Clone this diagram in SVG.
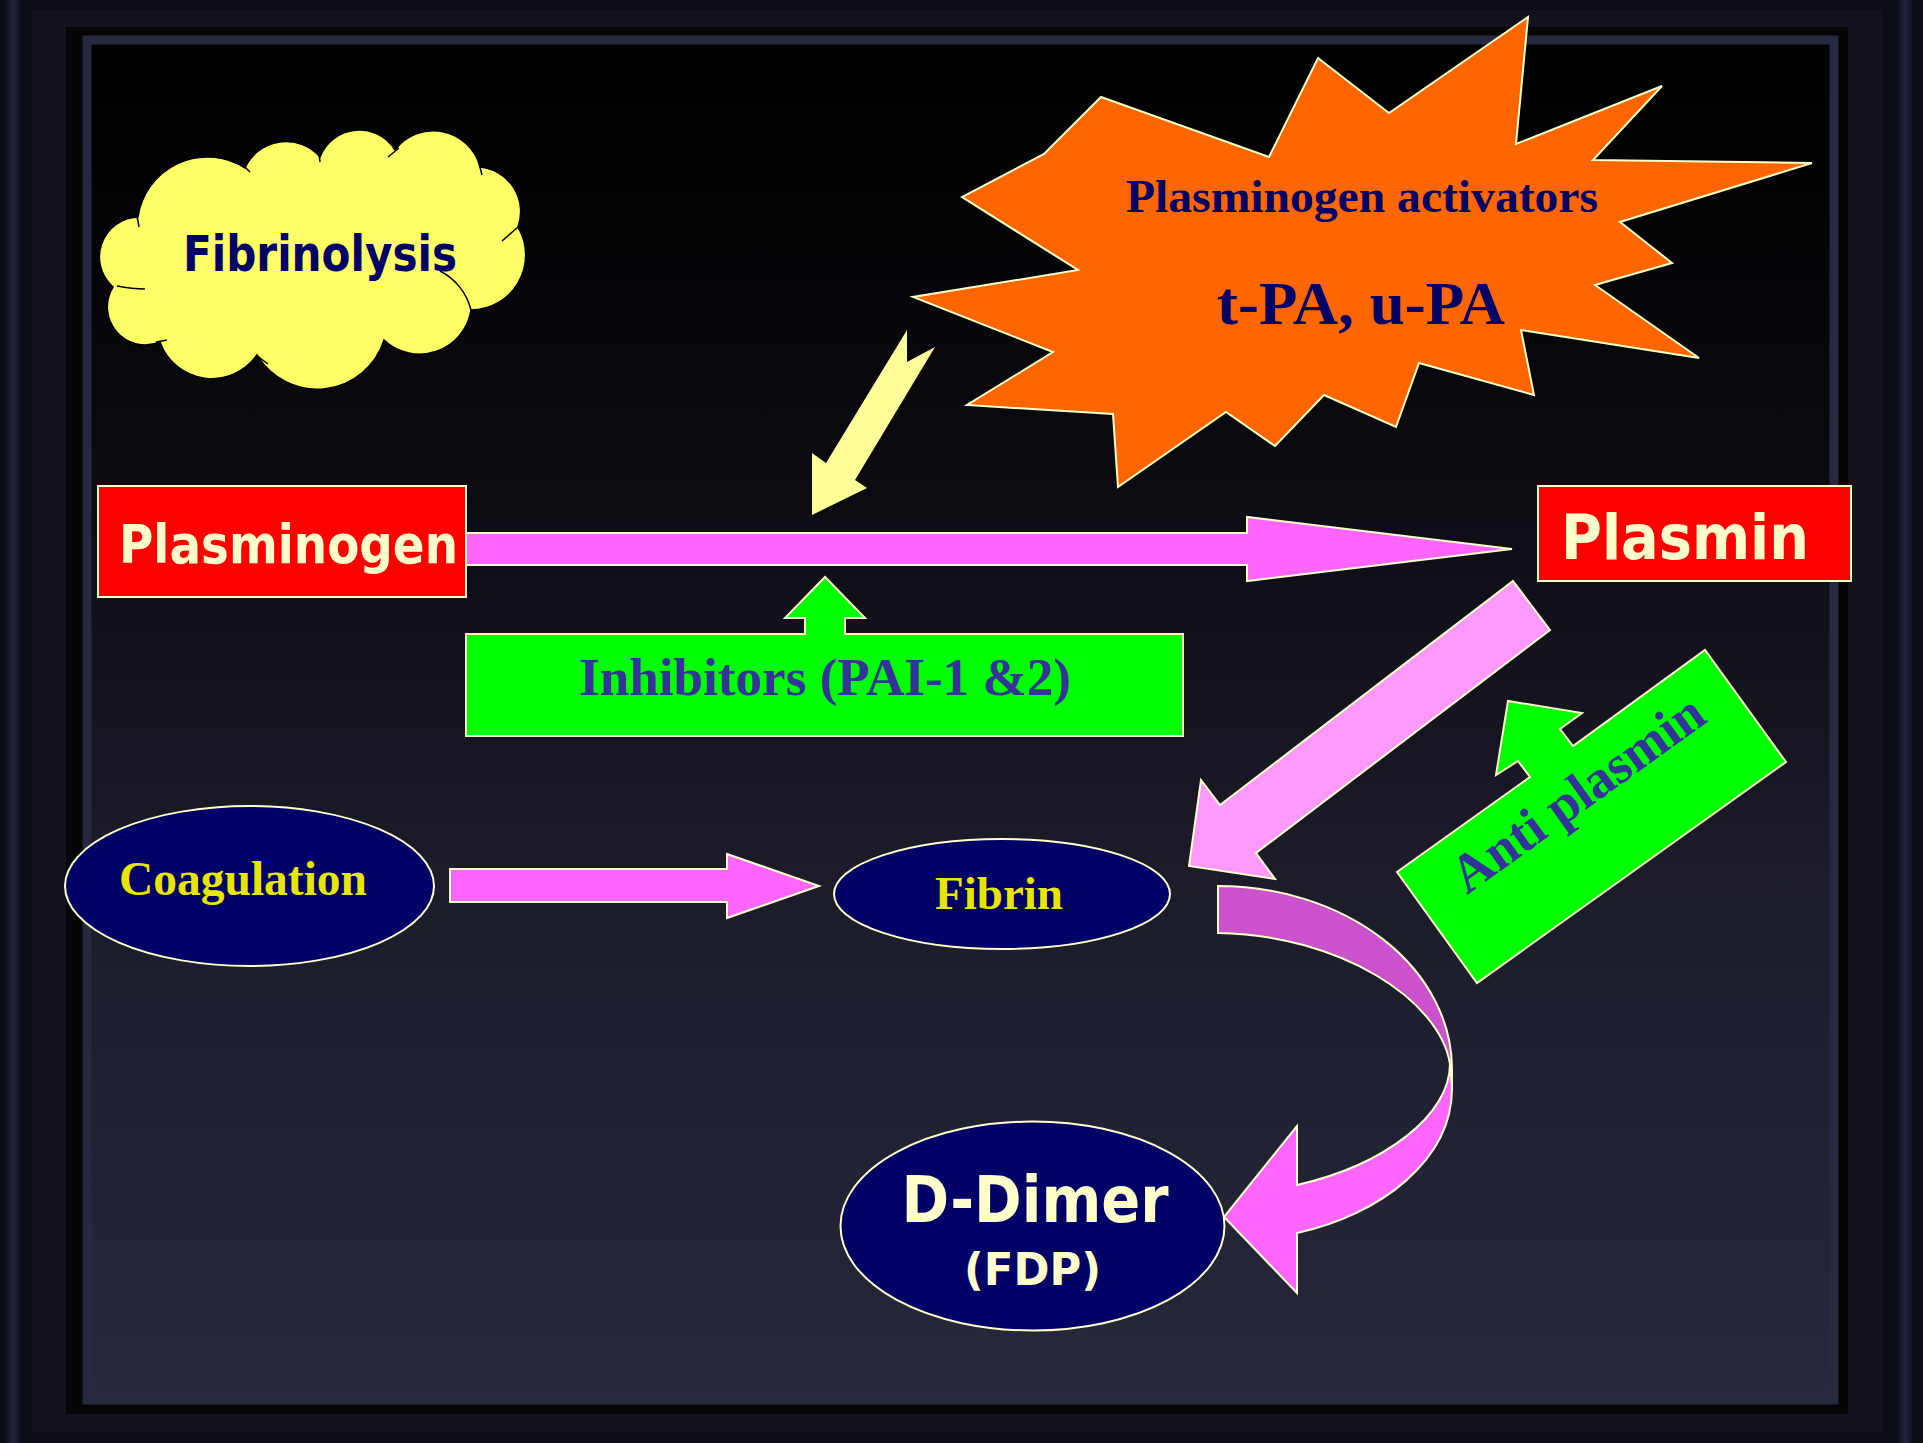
<svg xmlns="http://www.w3.org/2000/svg" width="1923" height="1443" viewBox="0 0 1923 1443">
<defs>
<linearGradient id="panel" x1="0" y1="0" x2="0" y2="1">
<stop offset="0" stop-color="#000000"/>
<stop offset="0.3" stop-color="#0a0a10"/>
<stop offset="0.6" stop-color="#1b1b29"/>
<stop offset="1" stop-color="#26283b"/>
</linearGradient>
<linearGradient id="band" x1="0" y1="0" x2="1" y2="0">
<stop offset="0" stop-color="#0b0b12"/>
<stop offset="0.5" stop-color="#222540"/>
<stop offset="1" stop-color="#0b0b12"/>
</linearGradient>
<style>
.box{stroke:#ffffcc;stroke-width:2}
.vb{font-family:"DejaVu Sans","Verdana",sans-serif;font-weight:bold}
.tm{font-family:"Liberation Serif","Times New Roman",serif;font-weight:bold}
.cream{fill:#ffffcc}
.navy{fill:#000066}
.purple{fill:#333399}
.yel{fill:#e6e600}
.pink{fill:#ff66ff}
.cl{fill:none;stroke:#000000;stroke-width:1.5}
</style>
</defs>
<g id="frame">
<rect x="0" y="0" width="1923" height="1443" fill="#0c0c14"/>
<rect x="4" y="0" width="18" height="1443" fill="url(#band)"/>
<rect x="1896" y="0" width="18" height="1443" fill="url(#band)"/>
<rect x="32" y="10" width="1850" height="1422" fill="#13131e"/>
<rect x="66" y="27" width="1782" height="1387" fill="#050507"/>
<rect x="87" y="40" width="1747" height="1360" fill="url(#panel)" stroke="#262940" stroke-width="9"/>
</g>
<g id="fibrinolysis">
<path d="M 138,217 A 70 70 0 0 1 245,168 A 45 45 0 0 1 320,157 A 42 42 0 0 1 395,150 A 48 48 0 0 1 480,167 A 45 45 0 0 1 518,227 A 55 55 0 0 1 471,310 A 52 52 0 0 1 384,340 A 70 70 0 0 1 257,355 A 55 55 0 0 1 160,342 A 38 38 0 0 1 113,287 A 40 40 0 0 1 138,217 Z" fill="#ffff66" stroke="#000" stroke-width="1.5"/>
<path class="cl" d="M 440,271 A 60 60 0 0 1 471,310"/>
<path class="cl" d="M 117,286 Q 132,289 145,289"/>
<path class="cl" d="M 137,216 L 139,227"/>
<path class="cl" d="M 241,163 L 250,172"/>
<path class="cl" d="M 319,154 L 320,162"/>
<path class="cl" d="M 388,157 L 399,148"/>
<path class="cl" d="M 480,167 L 482,175"/>
<path class="cl" d="M 518,227 L 502,241"/>
<path class="cl" d="M 384,340 L 382,352"/>
<path class="cl" d="M 256,355 L 268,364"/>
<path class="cl" d="M 156,342 L 167,340"/>
<text class="vb navy" x="183" y="271" font-size="49" textLength="274" lengthAdjust="spacingAndGlyphs">Fibrinolysis</text>
</g>
<g id="activators">
<polygon class="box" fill="#ff6600" stroke-width="1.5" points="1101,97 1269,157 1318,58 1389,113 1528,17 1516,144 1662,86 1593,160 1812,163 1620,222 1672,263 1595,285 1699,358 1521,330 1534,395 1419,363 1396,427 1324,395 1275,446 1226,412 1118,487 1113,414 967,405 1053,352 913,297 1078,270 962,197 1044,154"/>
<text class="tm navy" x="1126" y="212" font-size="46" textLength="472" lengthAdjust="spacingAndGlyphs">Plasminogen activators</text>
<text class="tm navy" x="1217" y="324" font-size="61" textLength="288" lengthAdjust="spacingAndGlyphs">t-PA, u-PA</text>
</g>
<g id="plasminogen">
<rect class="box" x="98" y="486" width="368" height="111" fill="#ff0000"/>
<text class="vb cream" x="119" y="563" font-size="53" textLength="339" lengthAdjust="spacingAndGlyphs">Plasminogen</text>
</g>
<g id="plasmin">
<rect class="box" x="1538" y="486" width="313" height="95" fill="#ff0000"/>
<text class="vb cream" x="1561" y="559" font-size="62" textLength="248" lengthAdjust="spacingAndGlyphs">Plasmin</text>
</g>
<g id="inhibitors">
<polygon class="box" fill="#00ff00" points="466,634 805,634 805,618 785,618 825,577 865,618 845,618 845,634 1183,634 1183,736 466,736"/>
<text class="tm purple" x="579" y="695" font-size="52" textLength="492" lengthAdjust="spacingAndGlyphs">Inhibitors (PAI-1 &amp;2)</text>
</g>
<g id="antiplasmin">
<polygon class="box" fill="#00ff00" points="1397,872 1530,777 1518,761 1496,775 1508,701 1582,713 1560,729 1573,746 1705,650 1786,762 1477,983"/>
<text class="tm purple" transform="translate(1588,808) rotate(-35.75)" x="0" y="0" text-anchor="middle" font-size="54" textLength="298" lengthAdjust="spacingAndGlyphs">Anti plasmin</text>
</g>
<g id="coagulation">
<ellipse class="box" cx="249.5" cy="886" rx="184.5" ry="80" fill="#000066"/>
<text class="tm yel" x="119" y="895" font-size="48" textLength="248" lengthAdjust="spacingAndGlyphs">Coagulation</text>
</g>
<g id="fibrin">
<ellipse class="box" cx="1002" cy="894" rx="168" ry="55" fill="#000066"/>
<text class="tm yel" x="935" y="909" font-size="47" textLength="128" lengthAdjust="spacingAndGlyphs">Fibrin</text>
</g>
<g id="ddimer">
<ellipse class="box" cx="1032.5" cy="1226" rx="192" ry="104.5" fill="#000066"/>
<text class="vb cream" x="901.5" y="1222" font-size="64" textLength="267" lengthAdjust="spacingAndGlyphs">D-Dimer</text>
<text class="vb cream" x="964" y="1285" font-size="44" textLength="137" lengthAdjust="spacingAndGlyphs">(FDP)</text>
</g>
<g id="connectors">
<polygon fill="#ffff99" points="907,330 907,362 935,347 855,480 867,488 812,515 812,453 826,463"/>
<polygon class="box pink" points="466,533 1247,533 1247,517 1512,549 1247,581 1247,565 466,565"/>
<polygon class="box pink" points="450,869 727,869 727,854 819,886 727,918 727,902 450,902"/>
<polygon class="box" fill="#ff99ff" points="1513,581 1550,630 1256,853 1275,879 1189,866 1201,780 1220,805"/>
<path class="box" fill="#cc52cc" d="M 1218,886 A 234 183 0 0 1 1452,1069 L 1452,1087 L 1450,1064 C 1440,1000 1340,935 1218,933 Z"/>
<path class="box pink" d="M 1452,1087 C 1453,1160 1380,1215 1297,1233 L 1297,1293 L 1224,1217 L 1297,1126 L 1297,1185 C 1385,1165 1450,1115 1450,1064 Z"/>
</g>
</svg>
